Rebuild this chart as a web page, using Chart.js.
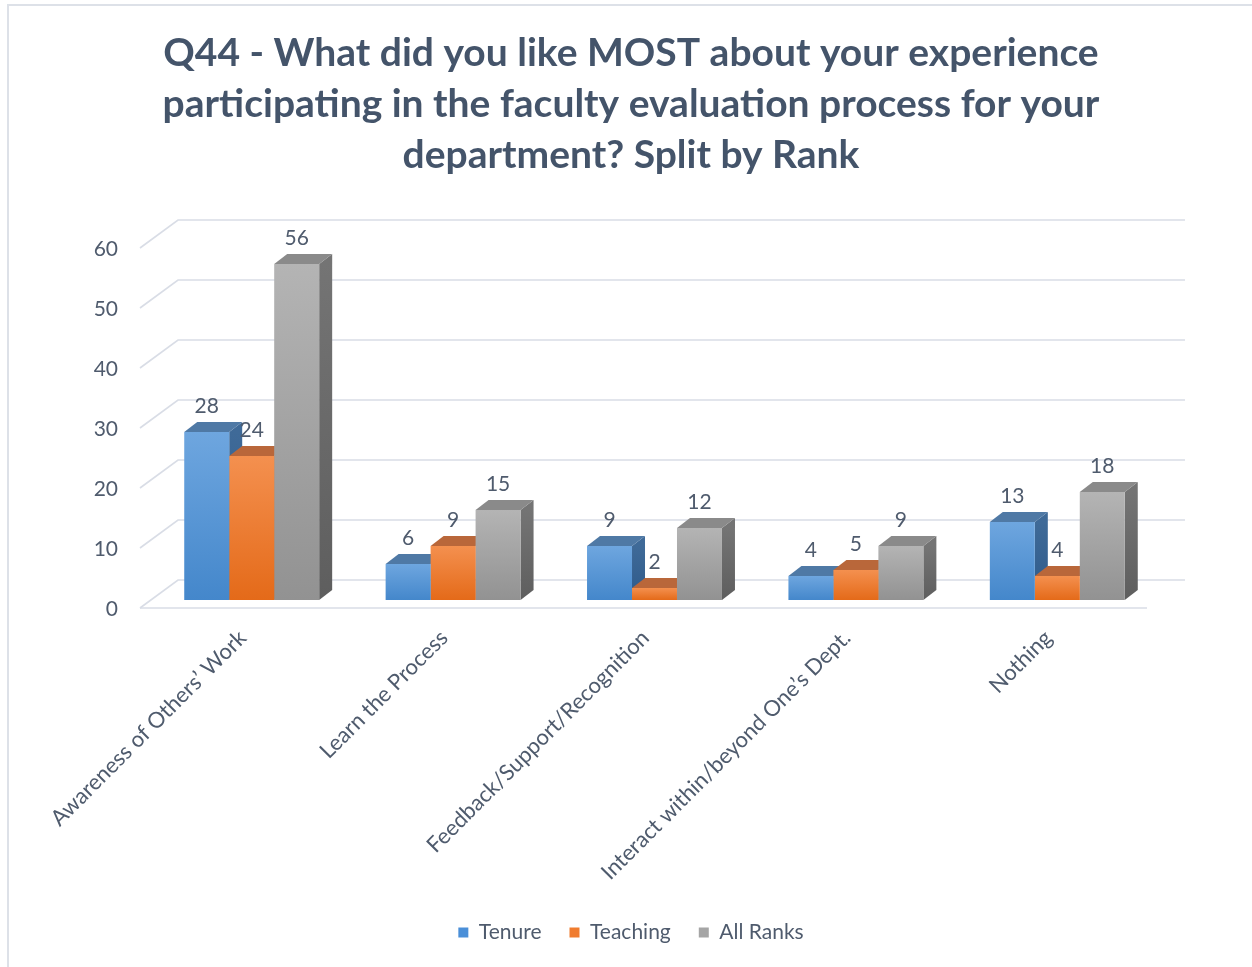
<!DOCTYPE html>
<html><head><meta charset="utf-8">
<script src="https://cdn.jsdelivr.net/npm/chart.js@4/dist/chart.umd.min.js"></script>
<style>html,body{margin:0;padding:0;background:#fff;}#wrap{width:1252px;height:967px;}</style>
</head><body><div id="wrap"><canvas id="c" width="1252" height="967"></canvas></div>
<script>
const categories = ['Awareness of Others\u2019 Work', 'Learn the Process', 'Feedback/Support/Recognition', 'Interact within/beyond One\u2019s Dept.', 'Nothing'];
const seriesNames = ['Tenure', 'Teaching', 'All Ranks'];
const tenure = [28, 6, 9, 4, 13];
const teaching = [24, 9, 2, 5, 4];
const allRanks = [56, 15, 12, 9, 18];
const yTickStep = 10;
const yMax = 60;
const titleLines = ['Q44 - What did you like MOST about your experience', 'participating in the faculty evaluation process for your', 'department? Split by Rank'];

const TEXT = '#44546A';
const AXIS_TEXT = '#4F5B6D';
const GRID = '#D9DDE6';
// 3D geometry (pixel offsets relative to the bar plane)
const FRONT = {dx: -11, dy: 8};
const BACK = {dx: 27, dy: -20};
const DEPTH = {dx: 13, dy: -10};

const styles = [
  {legend: '#4A8FD8', front: ['#6EA6DF', '#4487CB'], top: '#4F79A5', side: ['#3F6A98', '#2E5A8A']},
  {legend: '#F07C2F', front: ['#F4904F', '#E46A19'], top: '#B9673A', side: ['#B8602E', '#A4511F']},
  {legend: '#A5A5A5', front: ['#B4B4B4', '#929292'], top: '#8A8A8A', side: ['#747474', '#5E5E5E']}
];

function frontFill(si) {
  return function (ctx) {
    const st = styles[si];
    if (ctx.type !== 'data') return st.legend;
    const chart = ctx.chart, ys = chart.scales.y;
    if (!ys || !chart.chartArea) return st.legend;
    const top = ys.getPixelForValue(ctx.raw), base = ys.getPixelForValue(0);
    if (!isFinite(top) || !isFinite(base) || top === base) return st.front[1];
    const g = chart.ctx.createLinearGradient(0, top, 0, base);
    g.addColorStop(0, st.front[0]);
    g.addColorStop(1, st.front[1]);
    return g;
  };
}

const seriesData = [tenure, teaching, allRanks];

const bgPlugin = {
  id: 'bg',
  beforeDraw(chart) {
    const c = chart.ctx;
    c.save();
    c.fillStyle = '#fff';
    c.fillRect(0, 0, chart.width, chart.height);
    c.strokeStyle = '#DDE1E8';
    c.lineWidth = 2;
    c.beginPath();
    c.moveTo(8, chart.height);
    c.lineTo(8, 5);
    c.lineTo(chart.width, 5);
    c.stroke();
    c.restore();
  }
};

const wallPlugin = {
  id: 'walls',
  beforeDatasetsDraw(chart) {
    const c = chart.ctx, ys = chart.scales.y, a = chart.chartArea;
    c.save();
    c.strokeStyle = GRID;
    c.lineWidth = 1.6;
    ys.ticks.forEach(t => {
      const y = ys.getPixelForValue(t.value);
      c.beginPath();
      c.moveTo(a.left + FRONT.dx, y + FRONT.dy);
      c.lineTo(a.left + BACK.dx, y + BACK.dy);
      c.lineTo(a.right + BACK.dx, y + BACK.dy);
      c.stroke();
    });
    const y0 = ys.getPixelForValue(0);
    c.beginPath();
    c.moveTo(a.left + FRONT.dx, y0 + FRONT.dy);
    c.lineTo(a.right + FRONT.dx, y0 + FRONT.dy);
    c.stroke();
    // bar tops and sides (fronts are drawn by Chart.js afterwards)
    const n = categories.length;
    for (let i = 0; i < n; i++) {
      chart.data.datasets.forEach((ds, di) => {
        const el = chart.getDatasetMeta(di).data[i];
        if (!el) return;
        const p = el.getProps(['x', 'y', 'base', 'width'], true);
        const l = p.x - p.width / 2, r = p.x + p.width / 2;
        const st = styles[di];
        const g = c.createLinearGradient(0, p.y, 0, p.base);
        g.addColorStop(0, st.side[0]);
        g.addColorStop(1, st.side[1]);
        c.fillStyle = g;
        c.beginPath();
        c.moveTo(r, p.y);
        c.lineTo(r + DEPTH.dx, p.y + DEPTH.dy);
        c.lineTo(r + DEPTH.dx, p.base + DEPTH.dy);
        c.lineTo(r, p.base);
        c.closePath();
        c.fill();
        c.fillStyle = st.top;
        c.beginPath();
        c.moveTo(l, p.y);
        c.lineTo(l + DEPTH.dx, p.y + DEPTH.dy);
        c.lineTo(r + DEPTH.dx, p.y + DEPTH.dy);
        c.lineTo(r, p.y);
        c.closePath();
        c.fill();
      });
    }
    c.restore();
  },
  afterDatasetsDraw(chart) {
    const c = chart.ctx;
    c.save();
    c.font = '21px Lato';
    c.fillStyle = AXIS_TEXT;
    c.textAlign = 'center';
    c.textBaseline = 'middle';
    chart.data.datasets.forEach((ds, di) => {
      chart.getDatasetMeta(di).data.forEach((el, i) => {
        const p = el.getProps(['x', 'y'], true);
        c.fillText(String(ds.data[i]), p.x, p.y - 26);
      });
    });
    c.restore();
  }
};

new Chart(document.getElementById('c'), {
  type: 'bar',
  data: {
    labels: categories,
    datasets: seriesNames.map((name, si) => ({
      label: name,
      data: seriesData[si],
      backgroundColor: frontFill(si),
      borderWidth: 0,
      barPercentage: 1,
      categoryPercentage: 0.67
    }))
  },
  options: {
    responsive: false,
    devicePixelRatio: 1,
    animation: false,
    layout: {padding: {left: 10, right: 0, top: 0, bottom: 14}},
    scales: {
      x: {
        grid: {display: false, drawTicks: false},
        border: {display: false},
        ticks: {
          autoSkip: false, maxRotation: 45, minRotation: 45,
          padding: 25, labelOffset: -9,
          font: {family: 'Lato', size: 22}, color: AXIS_TEXT
        },
        afterFit(s) { s.height = 294; s.paddingLeft = 0; s.paddingRight = 0; }
      },
      y: {
        min: 0, max: yMax,
        grid: {display: false, drawTicks: false},
        border: {display: false},
        ticks: {stepSize: yTickStep, padding: 33, labelOffset: 9, font: {family: 'Lato', size: 21}, color: AXIS_TEXT},
        afterFit(s) { s.width = 141; s.paddingTop = 0; s.paddingBottom = 0; }
      },
      yR: {
        position: 'right',
        grid: {display: false, drawTicks: false},
        border: {display: false},
        ticks: {display: false},
        afterFit(s) { s.width = 94; }
      }
    },
    plugins: {
      title: {
        display: true,
        text: titleLines,
        color: TEXT,
        font: {family: 'Lato', size: 39, weight: 'bold', lineHeight: '51px'},
        padding: {top: 28, bottom: 59}
      },
      legend: {
        position: 'bottom',
        labels: {
          boxWidth: 10, boxHeight: 10, padding: 28,
          font: {family: 'Lato', size: 21}, color: AXIS_TEXT,
          generateLabels(chart) {
            return Chart.defaults.plugins.legend.labels.generateLabels(chart).map((l, i) => Object.assign(l, {fillStyle: styles[i].legend, strokeStyle: styles[i].legend, lineWidth: 0}));
          }
        }
      },
      tooltip: {enabled: false}
    }
  },
  plugins: [bgPlugin, wallPlugin]
});
</script>
</body></html>
